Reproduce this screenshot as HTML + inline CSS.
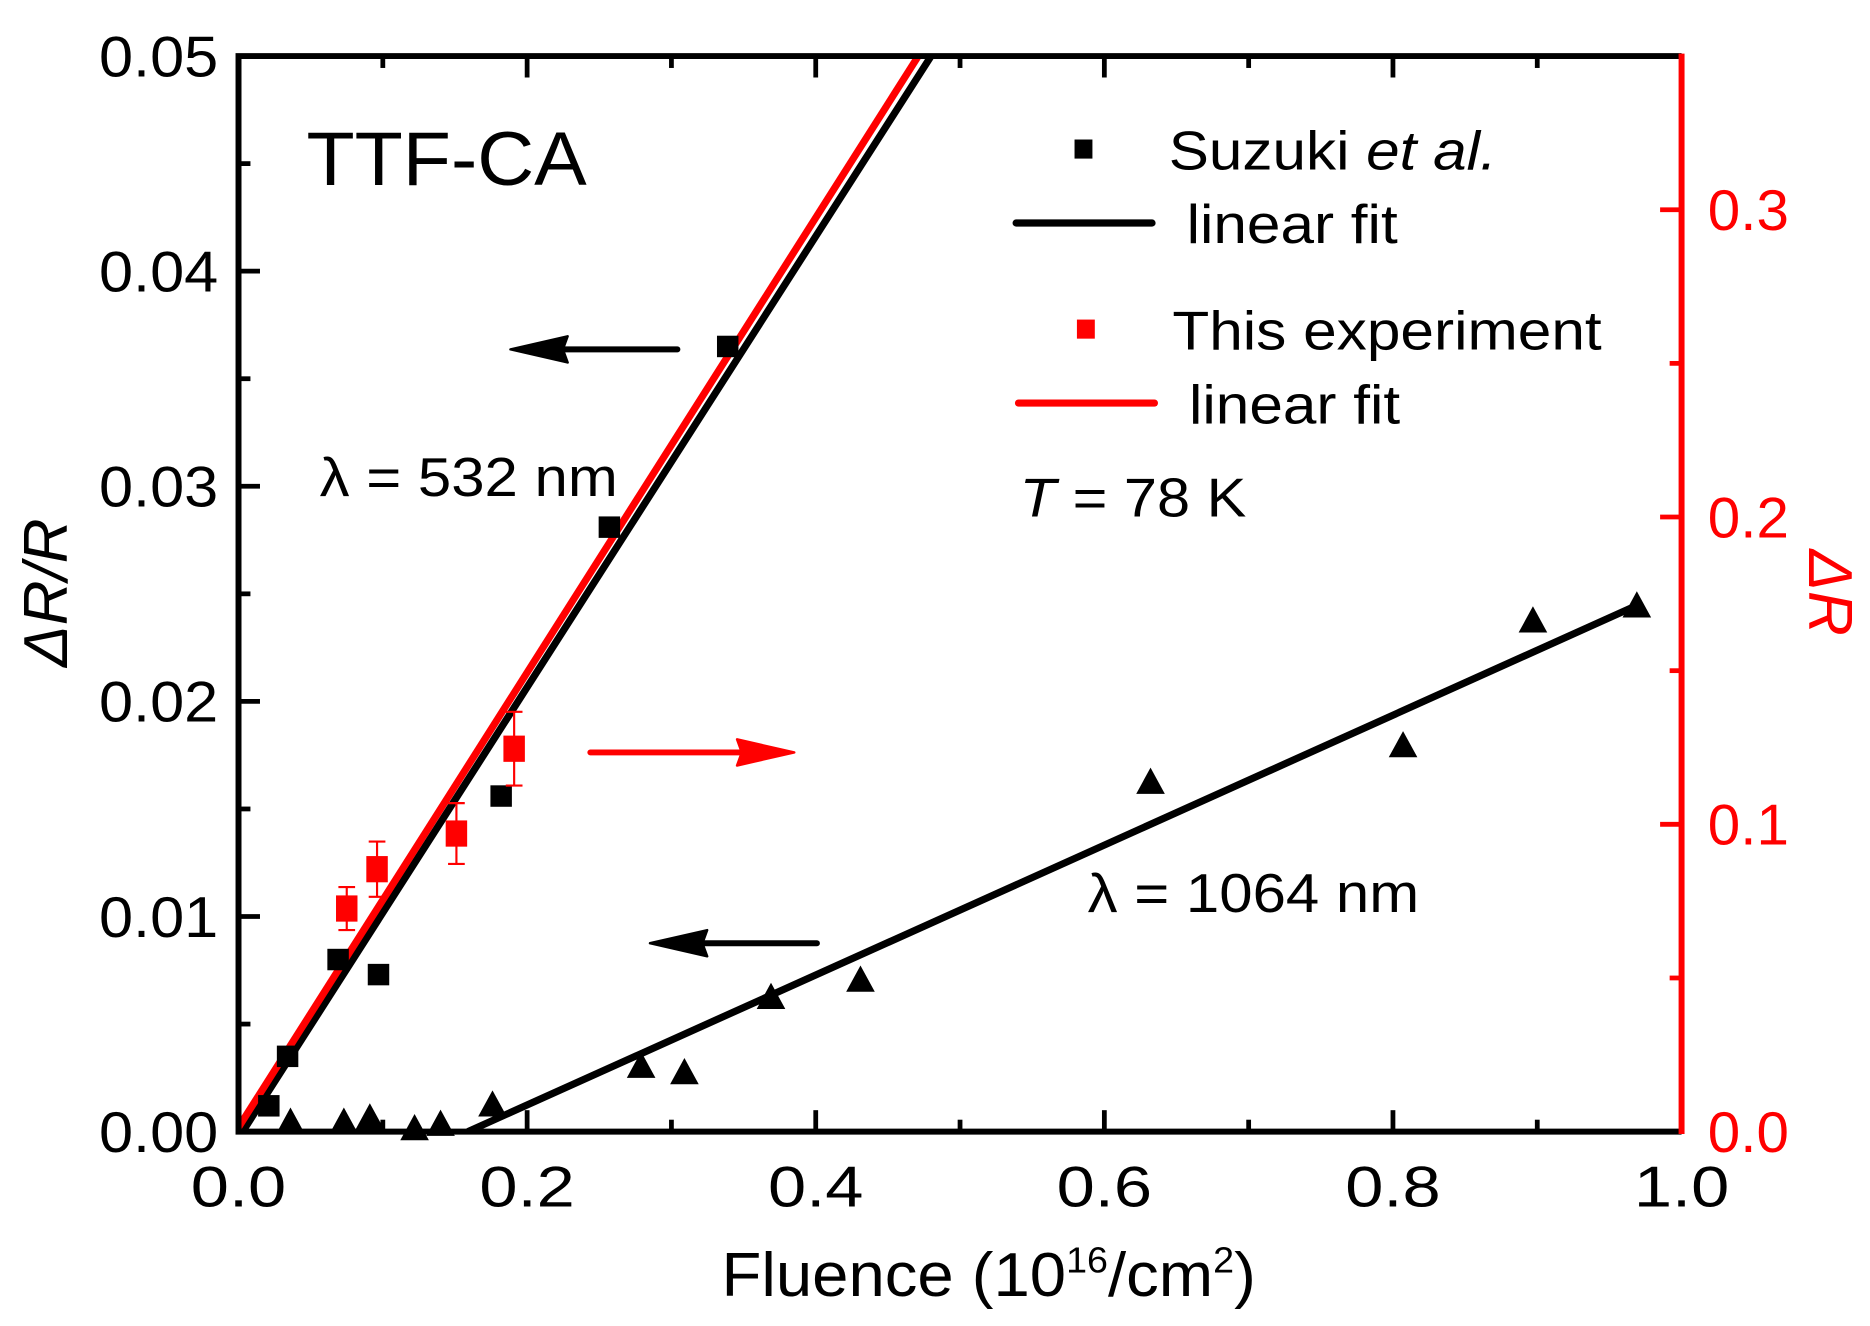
<!DOCTYPE html>
<html><head><meta charset="utf-8"><style>
html,body{margin:0;padding:0;background:#fff}
svg{display:block}
text{font-family:"Liberation Sans",Arial,sans-serif}
</style></head><body>
<svg id="chart" width="1870" height="1326" viewBox="0 0 1568 1112" preserveAspectRatio="none" xmlns="http://www.w3.org/2000/svg">
<g id="marks"></g>
<g id="axes"></g>
<text x="257" y="155" font-size="64" textLength="235" lengthAdjust="spacingAndGlyphs">TTF-CA</text>
<text x="268" y="416" font-size="46" textLength="250" lengthAdjust="spacingAndGlyphs">λ = 532 nm</text>
<text x="912" y="765" font-size="46" textLength="278" lengthAdjust="spacingAndGlyphs">λ = 1064 nm</text>
<text x="855" y="433" font-size="46" textLength="190" lengthAdjust="spacingAndGlyphs"><tspan font-style="italic">T</tspan> = 78 K</text>
<g>
 <rect x="901" y="117" width="15" height="16" fill="#000"/>
 <text x="980" y="142" font-size="46" textLength="275" lengthAdjust="spacingAndGlyphs">Suzuki <tspan font-style="italic">et al.</tspan></text>
 <line x1="852" y1="187" x2="966" y2="187" stroke="#000" stroke-width="6" stroke-linecap="round"/>
 <text x="995" y="204" font-size="46" textLength="177" lengthAdjust="spacingAndGlyphs">linear fit</text>
 <rect x="903" y="268" width="15" height="16" fill="#f00"/>
 <text x="983" y="293" font-size="46" textLength="360" lengthAdjust="spacingAndGlyphs">This experiment</text>
 <line x1="854" y1="338" x2="968" y2="338" stroke="#f00" stroke-width="6" stroke-linecap="round"/>
 <text x="997" y="355" font-size="46" textLength="177" lengthAdjust="spacingAndGlyphs">linear fit</text>
</g>
<text x="605" y="1087" font-size="52" textLength="448" lengthAdjust="spacingAndGlyphs">Fluence (10<tspan dy="-20" font-size="30">16</tspan><tspan dy="20">/cm</tspan><tspan dy="-20" font-size="30">2</tspan><tspan dy="20">)</tspan></text>
<text transform="translate(56,497) rotate(-90)" text-anchor="middle" font-size="52" font-style="italic">ΔR/R</text>
<text transform="translate(1517,497) rotate(90)" text-anchor="middle" font-size="52" font-style="italic" fill="#f00">ΔR</text>
</svg>
<script>
const suzukiX=[0.021,0.034,0.069,0.097,0.182,0.257,0.339];
const suzukiY=[0.0012,0.0035,0.0080,0.0073,0.0156,0.0281,0.0365];
const expX=[0.075,0.096,0.151,0.191];
const expY=[0.0726,0.0854,0.097,0.1246];
const expErr=[0.007,0.009,0.0099,0.012];
const triX=[0.036,0.073,0.091,0.122,0.140,0.176,0.279,0.309,0.369,0.431,0.632,0.807,0.897,0.969];
const triY=[0.0004,0.0004,0.0006,0.0001,0.0003,0.0012,0.0030,0.0027,0.0062,0.0070,0.0162,0.0179,0.0237,0.0244];
const fit532=[0.1048,-0.0003];
const fitExp=[0.74,0.0014];
const fit1064=[0.0302,-0.0048];
const fit1064End=0.969;
const xTicks=["0.0","0.2","0.4","0.6","0.8","1.0"];
const yTicks=["0.00","0.01","0.02","0.03","0.04","0.05"];
const rTicks=["0.0","0.1","0.2","0.3"];

const L=200,R=1410,T=47,B=949;
const NS="http://www.w3.org/2000/svg";
const sx=v=>L+v*(R-L);
const sy=v=>B-v/0.05*(B-T);
const sr=v=>B-v/0.35*(B-T);
const marks=document.getElementById('marks');
const axes=document.getElementById('axes');
function mk(tag,attrs,parent){const e=document.createElementNS(NS,tag);for(const k in attrs)e.setAttribute(k,attrs[k]);parent.appendChild(e);return e;}

const defs=mk('defs',{},marks);
const cp=mk('clipPath',{id:'clip'},defs);
mk('rect',{x:L,y:T,width:R-L,height:B-T},cp);
const g=mk('g',{'clip-path':'url(#clip)'},marks);

function fitLine(f,scale,color,name,xEnd){
  let x0=Math.max(0,-f[1]/f[0]);const x1=xEnd;
  const l=mk('line',{x1:sx(x0),y1:scale(f[0]*x0+f[1]),x2:sx(x1),y2:scale(f[0]*x1+f[1]),stroke:color,'stroke-width':6},g);
  
  
}
fitLine(fit532,sy,'#000','fit-line-532nm',1);
fitLine(fitExp,sr,'#f00','fit-line-experiment',1);
fitLine(fit1064,sy,'#000','fit-line-1064nm',fit1064End);

suzukiX.forEach((x,i)=>{
  const r=mk('rect',{x:sx(x)-9,y:sy(suzukiY[i])-9,width:18,height:18,fill:'#000'},marks);
  
  
});
expX.forEach((x,i)=>{
  const cx=sx(x),cy=sr(expY[i]),t=sr(expY[i]+expErr[i]),b=sr(expY[i]-expErr[i]);
  const e=mk('path',{d:`M${cx},${t}V${b}M${cx-7},${t}H${cx+7}M${cx-7},${b}H${cx+7}`,stroke:'#f00','stroke-width':1.8,fill:'none'},marks);
  
  
  const r=mk('rect',{x:cx-9,y:cy-11,width:18,height:22,fill:'#f00'},marks);
  
  
});
triX.forEach((x,i)=>{
  const cx=sx(x),cy=sy(triY[i]);
  const p=mk('polygon',{points:`${cx},${cy-13} ${cx-12},${cy+9} ${cx+12},${cy+9}`,fill:'#000'},marks);
  
  
});

function arrow(x1,x2,y,color,name){
  const dir=Math.sign(x2-x1);
  const a=mk('g',{},marks);
  
  
  mk('line',{x1:x1,y1:y,x2:x2-dir*20,y2:y,stroke:color,'stroke-width':5,'stroke-linecap':'round'},a);
  mk('polygon',{points:`${x2},${y} ${x2-dir*48},${y-11} ${x2-dir*44},${y} ${x2-dir*48},${y+11}`,fill:color,stroke:color,'stroke-width':2,'stroke-linejoin':'round'},a);
}
arrow(568,428,293,'#000','arrow-532-left');
arrow(495,666,631,'#f00','arrow-experiment-right');
arrow(685,545,791,'#000','arrow-1064-left');

mk('path',{d:`M${R},${T}H${L}V${B}H${R}`,stroke:'#000','stroke-width':5,fill:'none'},axes);
mk('line',{x1:R,y1:T-2,x2:R,y2:B+2,stroke:'#f00','stroke-width':5},axes);
for(let i=1;i<10;i++){
  const x=sx(i/10),len=i%2===0?18:10;
  mk('line',{x1:x,y1:B,x2:x,y2:B-len,stroke:'#000','stroke-width':4},axes);
  mk('line',{x1:x,y1:T,x2:x,y2:T+len,stroke:'#000','stroke-width':4},axes);
}
xTicks.forEach((t,i)=>{
  const tx=mk('text',{x:sx(i*0.2),y:1012,'font-size':48,'text-anchor':'middle',textLength:80,lengthAdjust:'spacingAndGlyphs'},axes);
  tx.textContent=t;
  
  
});
for(let i=1;i<10;i++){
  const y=sy(i*0.005),len=i%2===0?18:10;
  mk('line',{x1:L,y1:y,x2:L+len,y2:y,stroke:'#000','stroke-width':4},axes);
}
yTicks.forEach((t,i)=>{
  const tx=mk('text',{x:183,y:sy(i*0.01)+17,'font-size':48,'text-anchor':'end',textLength:100,lengthAdjust:'spacingAndGlyphs'},axes);
  tx.textContent=t;
  
  
});
for(let i=1;i<7;i++){
  const y=sr(i*0.05),len=i%2===0?18:10;
  mk('line',{x1:R,y1:y,x2:R-len,y2:y,stroke:'#f00','stroke-width':4},axes);
}
rTicks.forEach((t,i)=>{
  const tx=mk('text',{x:1432,y:sr(i*0.1)+17,'font-size':48,fill:'#f00',textLength:68,lengthAdjust:'spacingAndGlyphs'},axes);
  tx.textContent=t;
  
  
});
</script>
</body></html>
